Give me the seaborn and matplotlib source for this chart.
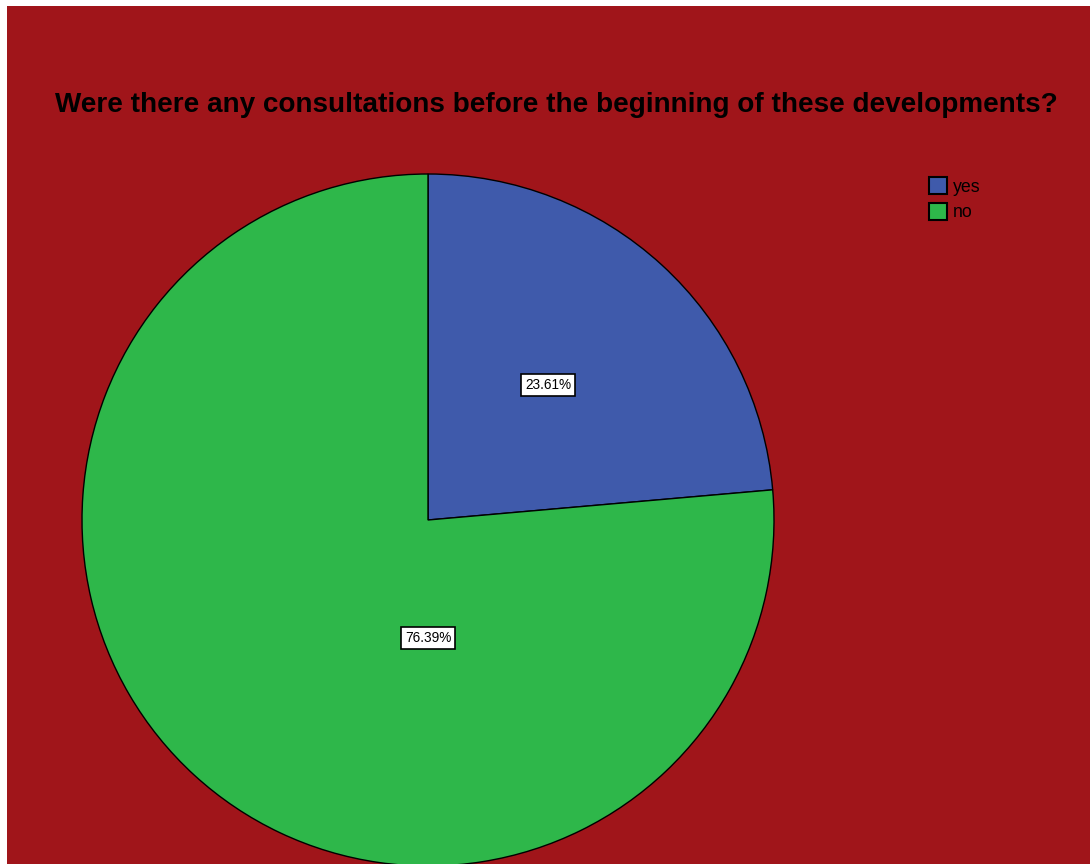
import matplotlib
matplotlib.use("Agg")
import matplotlib.pyplot as plt
import matplotlib.patches as mpatches
import seaborn as sns

sns.set_style("white")
plt.rcParams["font.family"] = ["Liberation Sans", "DejaVu Sans"]

# Survey answers and their shares (percent)
categories = ["yes", "no"]
shares = [23.61, 76.39]
slice_colors = ["#3F5AAB", "#2EB74A"]
title = "Were there any consultations before the beginning of these developments?"

W, H = 1090, 864
fig = plt.figure(figsize=(W / 100, H / 100), dpi=100, facecolor="white")

# Dark red chart area, drawn beneath everything else
fig.patches.append(mpatches.Rectangle((7 / W, 0), 1 - 7 / W, 1 - 6 / H,
                                      transform=fig.transFigure,
                                      facecolor="#A0151A", edgecolor="none", zorder=-10))

cx, cy, r = 428, 520, 346
ax = fig.add_axes([(cx - r) / W, (H - cy - r) / H, 2 * r / W, 2 * r / H], zorder=2)
ax.set_facecolor("none")

wedges, _ = ax.pie(shares, colors=slice_colors, startangle=90, counterclock=False,
                   radius=1.0, center=(0, 0),
                   wedgeprops=dict(edgecolor="black", linewidth=1.0))
ax.set_xlim(-1, 1)
ax.set_ylim(-1, 1)
ax.set_aspect("equal")
ax.axis("off")

# Percentage labels inside the slices
label_pos = [(0.347, 0.39), (0.0, -0.34)]
for (lx, ly), v in zip(label_pos, shares):
    ax.text(lx, ly, f"{v:.2f}%", ha="center", va="center", fontsize=9.8, color="black",
            bbox=dict(boxstyle="square,pad=0.3", facecolor="white", edgecolor="black",
                      linewidth=1.2))

fig.text(556 / W, 1 - 105 / H, title, ha="center", va="center",
         fontsize=20.1, fontweight="bold", color="black")

leg = fig.legend(wedges, categories, loc="upper left",
                 bbox_to_anchor=(924 / W, 1 - 172 / H), frameon=False,
                 borderaxespad=0, fontsize=12.8, handlelength=1.0, handleheight=1.1,
                 handletextpad=0.35, labelspacing=0.4, borderpad=0.28)
for t in leg.get_texts():
    t.set_color("black")
for h in leg.legend_handles:
    h.set_linewidth(1.5)

fig.savefig("out.png", dpi=100, facecolor="white")
